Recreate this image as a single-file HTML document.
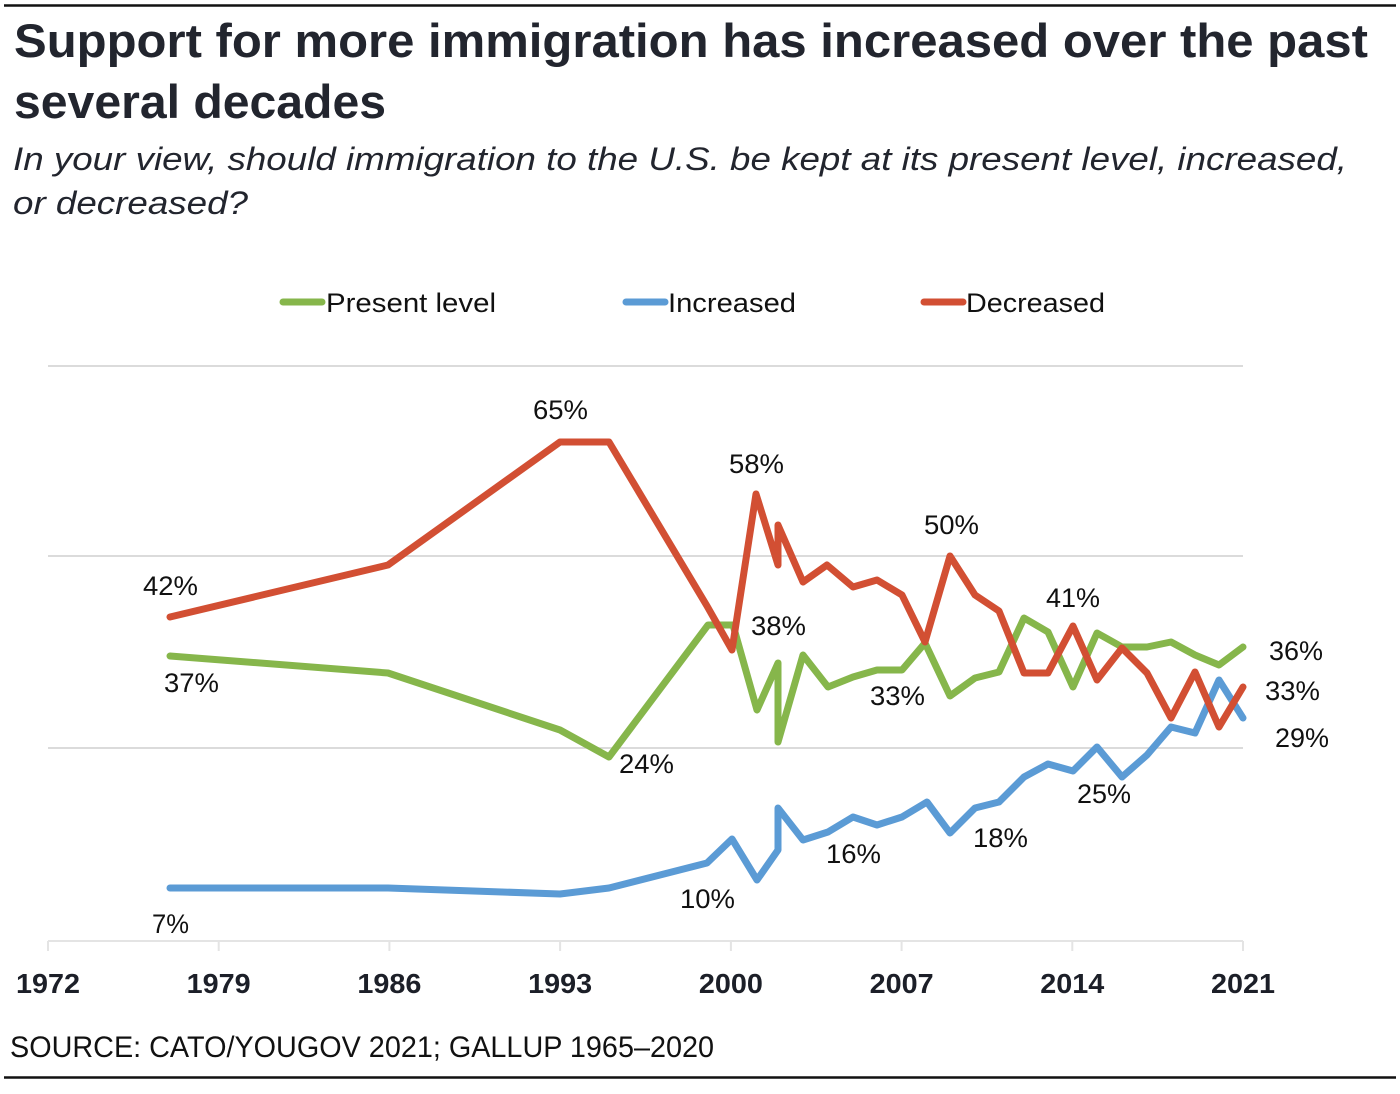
<!DOCTYPE html>
<html>
<head>
<meta charset="utf-8">
<style>
  html, body { margin: 0; padding: 0; background: #ffffff; }
  body { width: 1400px; height: 1094px; overflow: hidden; }
  svg { display: block; }
  .t { font-family: "Liberation Sans", sans-serif; }
</style>
</head>
<body>
<svg width="1400" height="1094" viewBox="0 0 1400 1094" xmlns="http://www.w3.org/2000/svg">
  <rect x="0" y="0" width="1400" height="1094" fill="#ffffff"/>
  <!-- top rule -->
  <line x1="4" y1="5.5" x2="1396" y2="5.5" stroke="#111" stroke-width="2.5"/>

  <!-- title -->
  <text class="t" x="14" y="57" font-size="47" font-weight="bold" fill="#22252e" textLength="1354" lengthAdjust="spacingAndGlyphs">Support for more immigration has increased over the past</text>
  <text class="t" x="14" y="118" font-size="47" font-weight="bold" fill="#22252e" textLength="372" lengthAdjust="spacingAndGlyphs">several decades</text>
  <!-- subtitle -->
  <text class="t" x="13" y="170" font-size="32" font-style="italic" fill="#22252e" textLength="1334" lengthAdjust="spacingAndGlyphs">In your view, should immigration to the U.S. be kept at its present level, increased,</text>
  <text class="t" x="13" y="214" font-size="32" font-style="italic" fill="#22252e" textLength="235" lengthAdjust="spacingAndGlyphs">or decreased?</text>

  <!-- legend -->
  <line x1="283" y1="302" x2="322" y2="302" stroke="#86B64B" stroke-width="7" stroke-linecap="round"/>
  <text class="t" x="326" y="312" font-size="27" fill="#111" textLength="170" lengthAdjust="spacingAndGlyphs">Present level</text>
  <line x1="626" y1="302" x2="665" y2="302" stroke="#5B9BD5" stroke-width="7" stroke-linecap="round"/>
  <text class="t" x="668" y="312" font-size="27" fill="#111" textLength="128" lengthAdjust="spacingAndGlyphs">Increased</text>
  <line x1="924" y1="302" x2="963" y2="302" stroke="#D24F33" stroke-width="7" stroke-linecap="round"/>
  <text class="t" x="966" y="312" font-size="27" fill="#111" textLength="139" lengthAdjust="spacingAndGlyphs">Decreased</text>

  <!-- gridlines -->
  <g stroke="#cfcfcf" stroke-width="1.6">
    <line x1="48" y1="366" x2="1243" y2="366"/>
    <line x1="48" y1="556" x2="1243" y2="556"/>
    <line x1="48" y1="748" x2="1243" y2="748"/>
  </g>
  <!-- x axis -->
  <line x1="48" y1="941" x2="1243" y2="941" stroke="#e4e4e4" stroke-width="2"/>
  <g stroke="#e4e4e4" stroke-width="2">
    <line x1="48" y1="941" x2="48" y2="951"/>
    <line x1="218.7" y1="941" x2="218.7" y2="951"/>
    <line x1="389.4" y1="941" x2="389.4" y2="951"/>
    <line x1="560.1" y1="941" x2="560.1" y2="951"/>
    <line x1="730.9" y1="941" x2="730.9" y2="951"/>
    <line x1="901.6" y1="941" x2="901.6" y2="951"/>
    <line x1="1072.3" y1="941" x2="1072.3" y2="951"/>
    <line x1="1243" y1="941" x2="1243" y2="951"/>
  </g>
  <g class="t" font-size="28" font-weight="bold" fill="#1c1f28" text-anchor="middle">
    <text x="48" y="993" textLength="64" lengthAdjust="spacingAndGlyphs">1972</text>
    <text x="218.7" y="993" textLength="64" lengthAdjust="spacingAndGlyphs">1979</text>
    <text x="389.4" y="993" textLength="64" lengthAdjust="spacingAndGlyphs">1986</text>
    <text x="560.1" y="993" textLength="64" lengthAdjust="spacingAndGlyphs">1993</text>
    <text x="730.9" y="993" textLength="64" lengthAdjust="spacingAndGlyphs">2000</text>
    <text x="901.6" y="993" textLength="64" lengthAdjust="spacingAndGlyphs">2007</text>
    <text x="1072.3" y="993" textLength="64" lengthAdjust="spacingAndGlyphs">2014</text>
    <text x="1243" y="993" textLength="64" lengthAdjust="spacingAndGlyphs">2021</text>
  </g>

  <!-- series -->
  <g fill="none" stroke-width="7" stroke-linecap="round" stroke-linejoin="round">
    <polyline stroke="#86B64B" points="170,656 388,673 560,730 609,757 708,625 733,625 757,710 778,663 778,742 803,655 828,687 853,677 877,670 902,670 925,643 950,696 975,678 999,672 1024,618 1048,632 1073,687 1097,633 1122,647 1147,647 1171,642 1195,655 1219,665 1243,647"/>
    <polyline stroke="#5B9BD5" points="170,888 388,888 560,894 609,888 707,863 732,839 757,880 778,850 778,808 803,840 828,832 853,817 877,825 902,817 927,802 950,833 975,808 999,802 1024,777 1048,764 1073,771 1097,747 1122,777 1147,755 1171,727 1195,733 1219,680 1243,718"/>
    <polyline stroke="#D24F33" points="170,617 388,565 560,442 609,442 707,606 732,650 756,494 778,565 778,525 803,582 827,565 853,587 877,580 902,595 925,642 950,556 975,595 999,611 1024,673 1048,673 1073,626 1097,680 1122,648 1147,673 1171,718 1195,672 1219,727 1243,687"/>
  </g>

  <!-- data labels -->
  <g class="t" font-size="27" fill="#111">
    <text x="143" y="595" textLength="55" lengthAdjust="spacingAndGlyphs">42%</text>
    <text x="164" y="692" textLength="55" lengthAdjust="spacingAndGlyphs">37%</text>
    <text x="533" y="419" textLength="55" lengthAdjust="spacingAndGlyphs">65%</text>
    <text x="619" y="773" textLength="55" lengthAdjust="spacingAndGlyphs">24%</text>
    <text x="152" y="933" textLength="37" lengthAdjust="spacingAndGlyphs">7%</text>
    <text x="729" y="473" textLength="55" lengthAdjust="spacingAndGlyphs">58%</text>
    <text x="751" y="635" textLength="55" lengthAdjust="spacingAndGlyphs">38%</text>
    <text x="680" y="908" textLength="55" lengthAdjust="spacingAndGlyphs">10%</text>
    <text x="826" y="863" textLength="55" lengthAdjust="spacingAndGlyphs">16%</text>
    <text x="870" y="705" textLength="55" lengthAdjust="spacingAndGlyphs">33%</text>
    <text x="924" y="534" textLength="55" lengthAdjust="spacingAndGlyphs">50%</text>
    <text x="973" y="847" textLength="55" lengthAdjust="spacingAndGlyphs">18%</text>
    <text x="1046" y="607" textLength="54" lengthAdjust="spacingAndGlyphs">41%</text>
    <text x="1077" y="803" textLength="54" lengthAdjust="spacingAndGlyphs">25%</text>
    <text x="1269" y="660" textLength="54" lengthAdjust="spacingAndGlyphs">36%</text>
    <text x="1265" y="700" textLength="55" lengthAdjust="spacingAndGlyphs">33%</text>
    <text x="1275" y="747" textLength="54" lengthAdjust="spacingAndGlyphs">29%</text>
  </g>

  <!-- source -->
  <text class="t" x="10" y="1057" font-size="30" fill="#111" textLength="704" lengthAdjust="spacingAndGlyphs">SOURCE: CATO/YOUGOV 2021; GALLUP 1965–2020</text>
  <!-- bottom rule -->
  <line x1="4" y1="1077.5" x2="1396" y2="1077.5" stroke="#111" stroke-width="2.5"/>
</svg>
</body>
</html>
